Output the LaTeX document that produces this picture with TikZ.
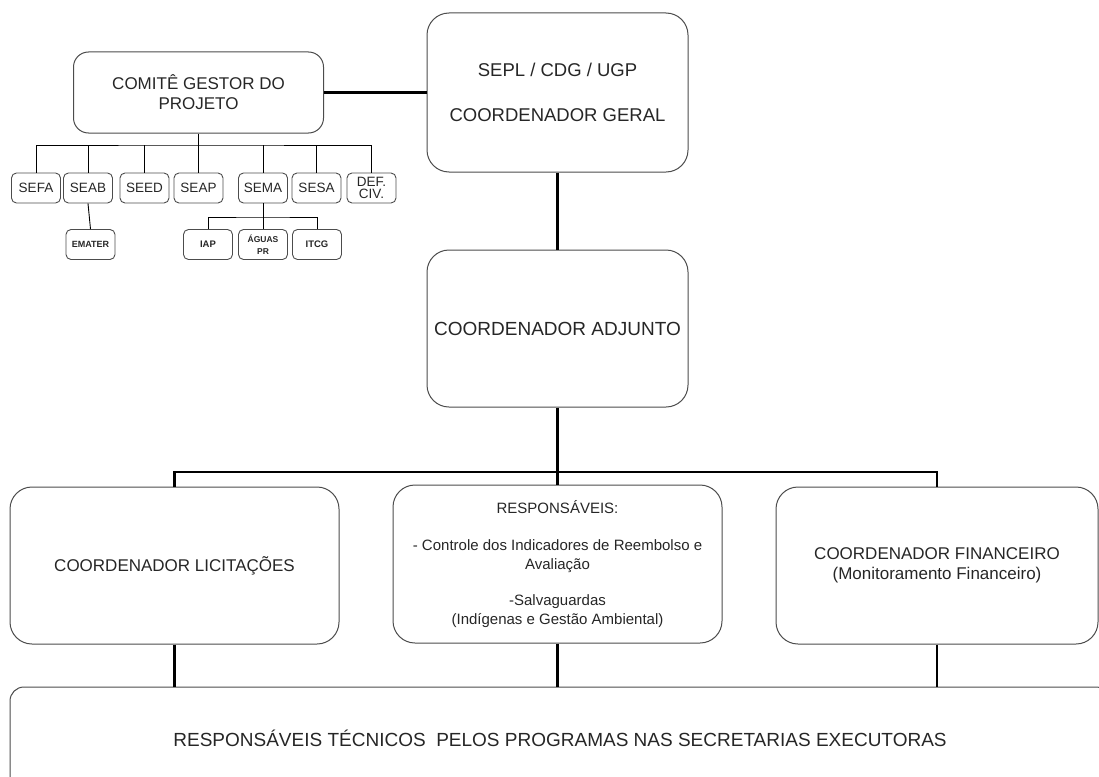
\documentclass[tikz,border=0pt]{standalone}
\usepackage{fontspec}
\setmainfont{Liberation Sans}

\begin{document}
\begin{tikzpicture}[x=1pt,y=-1pt,
	box/.style={draw=black!70, line width=1pt, rounded corners=22pt, align=center, inner sep=0pt, text=black!85, font=\fontsize{17}{20}\selectfont},
	smallbox/.style={draw=black!70, line width=0.9pt, rounded corners=5pt, align=center, inner sep=0pt, minimum width=49pt, minimum height=30pt, text=black!85, font=\fontsize{13.5}{11.5}\selectfont},
	tinybox/.style={smallbox, font=\bfseries\fontsize{9.5}{12}\selectfont},
	mainline/.style={line width=2.6pt},
	subline/.style={line width=0.9pt}]
	\clip (0,0) rectangle (1099,776);

	\node[box, minimum width=250pt, minimum height=81pt, rounded corners=15pt] (com) at (198.5,92.5) {COMITÊ GESTOR DO\\PROJETO};
	\node[box, minimum width=261pt, minimum height=159pt, font=\fontsize{18.5}{21}\selectfont] (sepl) at (557.5,92.5) {SEPL / CDG / UGP\\[24pt]COORDENADOR GERAL};
	\node[box, minimum width=261pt, minimum height=157pt, font=\fontsize{19}{22}\selectfont] (adj) at (557.5,328.5) {COORDENADOR ADJUNTO};
	\node[box, minimum width=329pt, minimum height=157pt] (lic) at (174.5,565.5) {COORDENADOR LICITAÇÕES};
	\node[box, minimum width=329pt, minimum height=158pt, font=\fontsize{15}{18.5}\selectfont] (resp) at (557.5,564) {RESPONSÁVEIS:\\[19pt]- Controle dos Indicadores de Reembolso e\\Avaliação\\[18pt]-Salvaguardas\\(Indígenas e Gestão Ambiental)};
	\node[box, minimum width=322pt, minimum height=157pt] (fin) at (937,565.5) {COORDENADOR FINANCEIRO\\(Monitoramento Financeiro)};
	\node[box, minimum width=1100pt, minimum height=102pt, rounded corners=14pt, font=\fontsize{19}{22}\selectfont] (tec) at (560,738) {RESPONSÁVEIS TÉCNICOS\ \ PELOS PROGRAMAS NAS SECRETARIAS EXECUTORAS};

	% secretarias
	\node[smallbox] (sefa) at (36,188) {SEFA};
	\node[smallbox] (seab) at (88,188) {SEAB};
	\node[smallbox] (seed) at (144.5,188) {SEED};
	\node[smallbox] (seap) at (198.5,188) {SEAP};
	\node[smallbox] (sema) at (263,188) {SEMA};
	\node[smallbox] (sesa) at (316.5,188) {SESA};
	\node[smallbox] (def) at (371.5,188) {DEF.\\CIV.};

	\node[tinybox, font=\bfseries\fontsize{9}{12}\selectfont] (emater) at (90.5,244.5) {EMATER};
	\node[tinybox] (iap) at (208,244.5) {IAP};
	\node[tinybox, font=\bfseries\fontsize{8.5}{12}\selectfont] (aguas) at (263,244.5) {ÁGUAS\\PR};
	\node[tinybox] (itcg) at (317,244.5) {ITCG};

	\coordinate (bus) at (557.5,472);
	\coordinate (sbus) at (198.5,145);
	\coordinate (mbus) at (263,217);

	\draw[mainline] (com.east) -- (sepl.west);
	\draw[mainline] (sepl.south) -- (adj.north);
	\draw[mainline] (adj.south) -- (resp.north);
	\draw[mainline] (lic.north) |- (bus) -| (fin.north);
	\draw[mainline] (lic.south) -- (lic.south |- tec.north);
	\draw[mainline] (resp.south) -- (resp.south |- tec.north);
	\draw[mainline] (fin.south) -- (fin.south |- tec.north);

	\draw[subline] (com.south) -- (seap.north);
	\draw[subline] (sefa.north) |- (sbus) -| (def.north);
	\draw[subline] (seab.north) -- (seab.north |- sbus);
	\draw[subline] (seed.north) -- (seed.north |- sbus);
	\draw[subline] (sema.north) -- (sema.north |- sbus);
	\draw[subline] (sesa.north) -- (sesa.north |- sbus);
	\draw[subline] (seab.south) -- (emater.north);
	\draw[subline] (sema.south) -- (aguas.north);
	\draw[subline] (iap.north) |- (mbus) -| (itcg.north);
\end{tikzpicture}
\end{document}
